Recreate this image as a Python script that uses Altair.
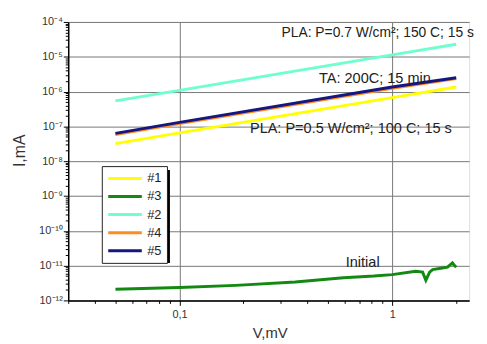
import altair as alt
import pandas as pd

# ---- data ----
series_order = ["#1", "#3", "#2", "#4", "#5"]
series_colors = ["#ffff00", "#128a12", "#6effcc", "#ff8c1e", "#161680"]
draw_order = ["#1", "#3", "#2", "#4", "#5"]

V_main = [0.05, 0.1, 1.0, 2.0]
I_1 = [3.2e-8, 6.5e-8, 6.7e-7, 1.35e-6]
I_2 = [5.4e-7, 1.08e-6, 1.13e-5, 2.3e-5]
I_4 = [5.8e-8, 1.2e-7, 1.25e-6, 2.35e-6]
I_5 = [6.3e-8, 1.3e-7, 1.35e-6, 2.5e-6]

V_3 = [0.05, 0.1, 0.184, 0.35, 0.59, 0.82, 1.0, 1.29, 1.39, 1.44, 1.5, 1.55, 1.72, 1.82, 1.92, 1.95, 2.0]
I_3 = [2.1e-12, 2.35e-12, 2.7e-12, 3.4e-12, 4.5e-12, 5.0e-12, 5.5e-12, 6.9e-12, 6.5e-12,
       3.8e-12, 6.5e-12, 7.7e-12, 8.5e-12, 9.0e-12, 1.2e-11, 1.05e-11, 9.0e-12]

ann_text = ["PLA: P=0.7 W/cm²; 150 C; 15 s", "TA: 200C; 15 min",
            "PLA: P=0.5 W/cm²; 100 C; 15 s", "Initial"]
ann_V = [0.302, 0.453, 0.2145, 0.605]
ann_I = [4.9e-5, 2.26e-6, 8.6e-8, 1.2e-11]
ann_size = [14, 14.7, 14.7, 14.7]

x_ticks = [0.03, 0.04, 0.05, 0.06, 0.07, 0.08, 0.09, 0.1, 0.2, 0.3, 0.4, 0.5,
           0.6, 0.7, 0.8, 0.9, 1.0, 2.0]
x_label_vals = [0.1, 1.0]
x_label_txt = ["0,1", "1"]

y_exps = [-12, -11, -10, -9, -8, -7, -6, -5, -4]
y_labels = ["10⁻¹²", "10⁻¹¹", "10⁻¹⁰", "10⁻⁹", "10⁻⁸", "10⁻⁷", "10⁻⁶", "10⁻⁵", "10⁻⁴"]

# ---- tables ----
rows = []
for s, vals in [("#1", I_1), ("#2", I_2), ("#4", I_4), ("#5", I_5)]:
    for v, i in zip(V_main, vals):
        rows.append({"V": v, "I": i, "series": s})
for v, i in zip(V_3, I_3):
    rows.append({"V": v, "I": i, "series": "#3"})
df = pd.DataFrame(rows)
ann = pd.DataFrame({"V": ann_V, "I": ann_I, "text": ann_text, "size": ann_size})

y_ticks = []
for e in y_exps[:-1]:
    for m in range(1, 10):
        y_ticks.append(float(f"{m}e{e}"))
y_ticks.append(float(f"1e{y_exps[-1]}"))

major = "abs(log(datum.value)/LN10 - round(log(datum.value)/LN10)) < 0.01"
y_expr = "".join(
    f"({major} && round(log(datum.value)/LN10) == {e}) ? '{t}' : "
    for e, t in zip(y_exps, y_labels)
) + "''"
x_expr = "".join(
    f"abs(datum.value - {v}) < 1e-6 ? '{t}' : " for v, t in zip(x_label_vals, x_label_txt)
) + "''"

FONT = "Liberation Sans"

x_enc = alt.X(
    "V:Q",
    scale=alt.Scale(type="log", domain=[0.03, 2.3], nice=False),
    axis=alt.Axis(
        values=x_ticks, labelExpr=x_expr, labelOverlap=False, labelFlush=False,
        title="V,mV", titleFontSize=15, titleFontWeight="normal", titleFont=FONT,
        titleColor="#333", titleX=204, titleY=33, titleBaseline="middle", titleAlign="center",
        labelFont=FONT, labelFontSize=11, labelColor="#333", labelPadding=3,
        domainColor="black", domainWidth=1.5, tickColor="black",
        tickSize={"condition": {"test": major, "value": 5}, "value": 3},
        grid=True, gridColor="#777", gridWidth=1,
        gridOpacity={"condition": {"test": major, "value": 1}, "value": 0},
    ),
)
y_enc = alt.Y(
    "I:Q",
    scale=alt.Scale(type="log", domain=[1e-12, 1e-4], nice=False),
    axis=alt.Axis(
        values=y_ticks, labelExpr=y_expr, labelOverlap=False, labelFlush=False,
        title="I,mA", titleFontSize=16, titleFontWeight="normal", titleFont=FONT,
        titleColor="#333", titleX=-49, titleY=130, titleBaseline="middle", titleAlign="center",
        labelFont=FONT, labelFontSize=11, labelColor="#333", labelPadding=1,
        domainColor="black", domainWidth=1.5, tickColor="black",
        tickSize={"condition": {"test": major, "value": 5}, "value": 3},
        grid=True, gridColor="#777", gridWidth=1,
        gridOpacity={"condition": {"test": major, "value": 1}, "value": 0},
    ),
)
color_enc = alt.Color(
    "series:N",
    scale=alt.Scale(domain=series_order, range=series_colors),
    legend=alt.Legend(
        orient="none", legendX=34, legendY=146, title=None,
        symbolType="M-1,0H4.67", symbolSize=144, symbolStrokeWidth=3,
        labelOffset=26, labelFontSize=13, labelFont=FONT, labelColor="#222",
        fillColor="white", strokeColor="#222", padding=5, rowPadding=3.3,
    ),
)

shadow = alt.Chart(pd.DataFrame({"k": [0]})).mark_rect(color="black").encode(
    x=alt.value(38), x2=alt.value(103), y=alt.value(150), y2=alt.value(244)
)

base = alt.Chart(df).mark_line(strokeWidth=3, strokeCap="butt").encode(
    x=x_enc, y=y_enc, color=color_enc
)
lines = [base.transform_filter(alt.datum.series == s) for s in draw_order]

texts = alt.Chart(ann).mark_text(
    align="left", baseline="middle", font=FONT, color="#222"
).encode(x="V:Q", y="I:Q", text="text:N",
         size=alt.Size("size:Q", scale=None, legend=None))

chart = alt.layer(shadow, *lines, texts).properties(
    width=406, height=282,
    autosize=alt.AutoSizeParams(type="none"),
    padding={"left": 61, "top": 12, "right": 10, "bottom": 40},
).configure_view(stroke="black", strokeWidth=1.5).configure(background="white")

chart.save("out.html", embed_options={"renderer": "svg", "actions": False})
